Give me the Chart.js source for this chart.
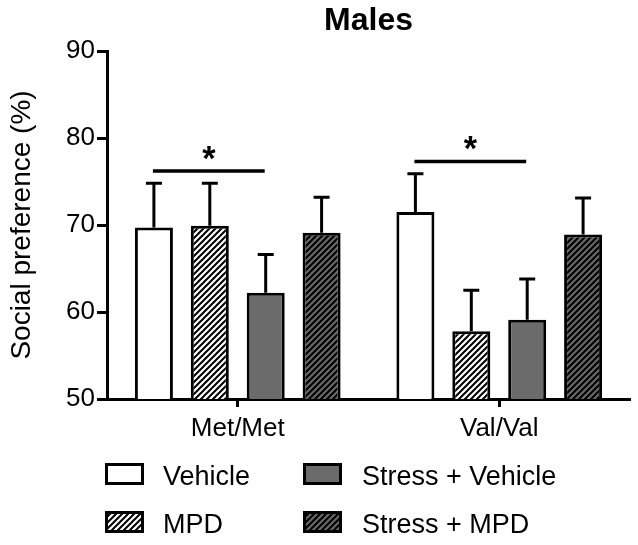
<!DOCTYPE html>
<html><head><meta charset="utf-8">
<script src="https://cdn.jsdelivr.net/npm/chart.js@4.4.0/dist/chart.umd.min.js"></script>
<style>html,body{margin:0;padding:0;background:#fff}canvas{display:block}</style>
</head><body>
<canvas id="c" width="638" height="545"></canvas>
<script>
// ---- data ----
const categories = ['Met/Met', 'Val/Val'];
const seriesNames = ['Vehicle', 'MPD', 'Stress + Vehicle', 'Stress + MPD'];
const vehicle = [69.7, 71.5];
const mpd = [69.9, 57.8];
const stressVehicle = [62.2, 59.1];
const stressMpd = [69.1, 68.9];
const vehicleErr = [5.1, 4.4];
const mpdErr = [4.9, 4.7];
const stressVehicleErr = [4.4, 4.7];
const stressMpdErr = [4.1, 4.2];
const yTicks = [50, 60, 70, 80, 90];
const chartTitle = 'Males';
const yTitle = 'Social preference (%)';
// significance brackets: category, from series, to series, level, label
const sigCategory = [0, 1];
const sigFrom = [0, 0];
const sigTo = [2, 2];
const sigLevel = [76.2, 77.3];
const sigLabel = ['*', '*'];

const FONT = '"Liberation Sans", Arial, Helvetica, sans-serif';

function hatch(bg, fg) {
  const p = document.createElement('canvas');
  p.width = 6; p.height = 6;
  const g = p.getContext('2d');
  g.fillStyle = bg; g.fillRect(0, 0, 6, 6);
  g.strokeStyle = fg; g.lineWidth = 2;
  g.beginPath();
  g.moveTo(-1, 7); g.lineTo(7, -1);
  g.moveTo(-1, 1); g.lineTo(1, -1);
  g.moveTo(5, 7); g.lineTo(7, 5);
  g.stroke();
  return document.getElementById('c').getContext('2d').createPattern(p, 'repeat');
}

const fills = ['#ffffff', hatch('#ffffff', '#000000'), '#6b6b6b', hatch('#686868', '#000000')];
const values = [vehicle, mpd, stressVehicle, stressMpd];
const errs = [vehicleErr, mpdErr, stressVehicleErr, stressMpdErr];

const datasets = seriesNames.map((n, i) => ({
  label: n,
  data: values[i],
  errors: errs[i],
  backgroundColor: fills[i],
  borderColor: '#000',
  borderWidth: 3,
  borderSkipped: 'start',
  categoryPercentage: 0.855,
  barPercentage: 0.68
}));

const errorBars = {
  id: 'errorBars',
  afterDatasetsDraw(chart) {
    const ctx = chart.ctx, y = chart.scales.y;
    chart.data.datasets.forEach((ds, i) => {
      chart.getDatasetMeta(i).data.forEach((bar, j) => {
        const top = y.getPixelForValue(ds.data[j] + ds.errors[j]);
        ctx.save();
        ctx.strokeStyle = '#000'; ctx.lineWidth = 3;
        ctx.beginPath();
        ctx.moveTo(bar.x, bar.y); ctx.lineTo(bar.x, top);
        ctx.moveTo(bar.x - 8, top); ctx.lineTo(bar.x + 8, top);
        ctx.stroke();
        ctx.restore();
      });
    });
  }
};

const sigPlugin = {
  id: 'sig',
  afterDatasetsDraw(chart) {
    const ctx = chart.ctx, y = chart.scales.y;
    sigCategory.forEach((c, k) => {
      const a = chart.getDatasetMeta(sigFrom[k]).data[c];
      const b = chart.getDatasetMeta(sigTo[k]).data[c];
      const py = y.getPixelForValue(sigLevel[k]);
      ctx.save();
      ctx.strokeStyle = '#000'; ctx.lineWidth = 3.5;
      ctx.beginPath(); ctx.moveTo(a.x - 1, py); ctx.lineTo(b.x - 1, py); ctx.stroke();
      ctx.fillStyle = '#000';
      // size the asterisk so its glyph is ~13px tall
      ctx.font = 'bold 100px ' + FONT;
      let m = ctx.measureText(sigLabel[k]);
      const h100 = m.actualBoundingBoxAscent + m.actualBoundingBoxDescent;
      const fs = 100 * 13 / h100;
      ctx.font = 'bold ' + fs + 'px ' + FONT;
      m = ctx.measureText(sigLabel[k]);
      ctx.textAlign = 'center'; ctx.textBaseline = 'alphabetic';
      // glyph bottom sits ~11.5px above the line
      const baseline = py - 11.5 - m.actualBoundingBoxDescent;
      ctx.fillText(sigLabel[k], (a.x + b.x) / 2 - 1, baseline);
      ctx.restore();
    });
  }
};

const titlePlugin = {
  id: 'centerTitle',
  afterDraw(chart) {
    const ctx = chart.ctx, ca = chart.chartArea;
    ctx.save();
    ctx.font = 'bold 32px ' + FONT;
    ctx.fillStyle = '#000';
    ctx.textAlign = 'center'; ctx.textBaseline = 'alphabetic';
    ctx.fillText(chartTitle, (ca.left + ca.right) / 2, 30);
    ctx.restore();
  }
};

const customLegend = {
  id: 'customLegend',
  afterDraw(chart) {
    const ctx = chart.ctx;
    const boxX = [105, 303], textX = [163, 362];
    const boxY = [463, 511], base = [485, 533];
    ctx.save();
    ctx.font = '27px ' + FONT;
    ctx.textBaseline = 'alphabetic';
    ctx.textAlign = 'left';
    chart.data.datasets.forEach((d, i) => {
      const col = Math.floor(i / 2), row = i % 2;
      ctx.fillStyle = d.backgroundColor;
      ctx.fillRect(boxX[col], boxY[row], 39, 22);
      ctx.strokeStyle = '#000'; ctx.lineWidth = 3;
      ctx.strokeRect(boxX[col] + 1.5, boxY[row] + 1.5, 36, 19);
      ctx.fillStyle = '#000';
      ctx.fillText(d.label, textX[col], base[row]);
    });
    ctx.restore();
  }
};

new Chart(document.getElementById('c'), {
  type: 'bar',
  data: { labels: categories, datasets },
  options: {
    responsive: false,
    animation: false,
    layout: { padding: { left: 0, right: 8, top: 51, bottom: 106 } },
    plugins: {
      legend: { display: false },
      tooltip: { enabled: false },
      title: { display: false }
    },
    scales: {
      x: {
        grid: { offset: false, drawOnChartArea: false, drawTicks: true, tickLength: 8, tickWidth: 3, tickColor: '#000' },
        border: { display: true, width: 3, color: '#000' },
        ticks: { color: '#000', padding: 6, font: { family: FONT, size: 26 } },
        afterFit: s => { s.height = 40; }
      },
      y: {
        min: yTicks[0], max: yTicks[yTicks.length - 1],
        afterBuildTicks: s => { s.ticks = yTicks.map(v => ({ value: v })); },
        grid: { drawOnChartArea: false, drawTicks: true, tickLength: 10, tickWidth: 3, tickColor: '#000' },
        border: { display: true, width: 3, color: '#000' },
        ticks: { color: '#000', padding: 2, font: { family: FONT, size: 26 } },
        title: { display: true, text: yTitle, color: '#000', padding: { top: 5, bottom: 0 }, font: { family: FONT, size: 28 } },
        afterFit: s => { s.width = 107; }
      }
    }
  },
  plugins: [errorBars, sigPlugin, titlePlugin, customLegend]
});
</script>
</body></html>
